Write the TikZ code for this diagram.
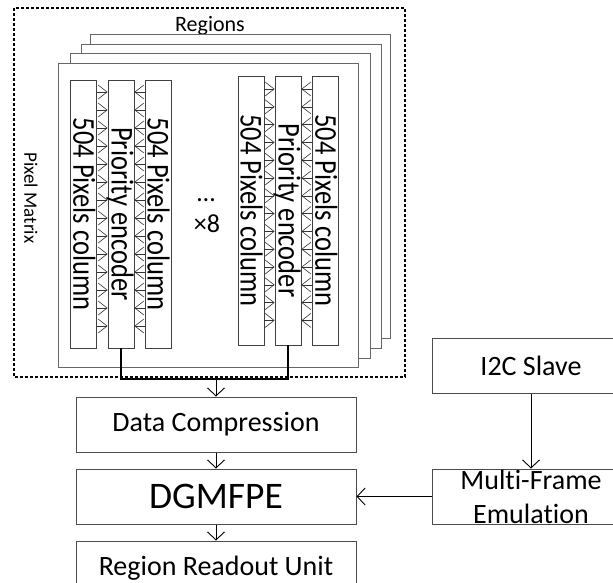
\documentclass[tikz,border=0pt]{standalone}
\usepackage{fontspec}
\setmainfont{Carlito}[Ligatures=NoCommon]
\usetikzlibrary{arrows.meta,calc}
\newcommand{\tallcol}[1]{\scalebox{1}[1.2]{#1}}
\begin{document}
\begin{tikzpicture}[x=1pt,y=-1pt,
  plane/.style={draw=black!60, line width=0.8pt, fill=white},
  col/.style={draw=black!75, line width=0.8pt, fill=white, rotate=-90, inner sep=0pt,
    minimum width=268pt, text height=23.5pt, text depth=2.5pt,
    font=\fontsize{26.5}{28}\selectfont},
  enc/.style={col, text height=22.5pt, text depth=3.5pt},
  ladder/.style={draw=black!80, line width=0.6pt, -{Straight Barb[length=9pt,width=14pt]}},
  box/.style={draw=black!70, line width=1pt, minimum width=280pt, minimum height=55pt,
    inner sep=0pt, font=\fontsize{28}{34}\selectfont, align=center},
  sbox/.style={box, minimum width=198pt},
  arr/.style={draw=black, line width=0.9pt, -{Straight Barb[length=8pt,width=17pt]}},
  bus/.style={draw=black, line width=1.6pt}]
\useasboundingbox (0,0) rectangle (613,582);
\clip (0,0) rectangle (613,582);
% dashed pixel matrix frame
\draw[line width=1.5pt, dash pattern=on 3pt off 2pt] (14,8) rectangle (405,377);
\node[font=\fontsize{22}{24}\selectfont] (regions) at (210,26) {Regions};
\node[rotate=-90, font=\fontsize{19}{21}\selectfont] (pm) at (31,198) {Pixel Matrix};
% region planes
\draw[plane] (90.5,34) rectangle (390,338);
\draw[plane] (81,44) rectangle (381,348);
\draw[plane] (70.5,53.5) rectangle (370,358);
\draw[plane] (58.6,63) rectangle (358,367);
% left group
\node[col] (l1) at (83.75,214) {\tallcol{504 Pixels column}};
\node[enc] (le) at (121,214) {\tallcol{Priority encoder}};
\node[col] (l3) at (158,214) {\tallcol{504 Pixels column}};
% right group
\node[col, minimum width=269pt] (r1) at (251,210.5) {\tallcol{504 Pixels column}};
\node[enc, minimum width=269pt] (re) at (288,210.5) {\tallcol{Priority encoder}};
\node[col, minimum width=269pt] (r3) at (325.75,210.5) {\tallcol{504 Pixels column}};
% ladders
\foreach \i in {0,...,13}{
  \pgfmathsetmacro{\y}{92+18*\i}
  \draw[ladder] (l1.north |- 0,\y) -- (le.south |- 0,\y);
  \draw[ladder] (l3.south |- 0,\y) -- (le.north |- 0,\y);
  \pgfmathsetmacro{\yy}{89+17.8*\i}
  \draw[ladder] (r1.north |- 0,\yy) -- (re.south |- 0,\yy);
  \draw[ladder] (r3.south |- 0,\yy) -- (re.north |- 0,\yy);
}
\node[font=\fontsize{26}{28}\selectfont] (dots) at (206,200) {…};
\node[font=\fontsize{26}{28}\selectfont] (x8) at (207,224) {×8};
% lower blocks
\node[box] (dc) at (216,424.5) {Data Compression};
\node[box, font=\fontsize{37.5}{40}\selectfont] (dg) at (216,496.5) {DGMFPE};
\node[box] (rru) at (216,568.5) {Region Readout Unit};
\node[sbox] (i2c) at (531,365.5) {I2C Slave};
\node[sbox] (mfe) at (531,496.5) {Multi-Frame\\Emulation};
% bus
\coordinate (bj) at (216,379);
\draw[bus] (le.east) |- (bj) -| (re.east);
\draw[arr] (bj) -- (dc.north);
\draw[arr] (dc) -- (dg);
\draw[arr] (dg) -- (rru);
\draw[arr] (i2c) -- (mfe);
\draw[arr] (mfe) -- (dg);
\end{tikzpicture}
\end{document}
